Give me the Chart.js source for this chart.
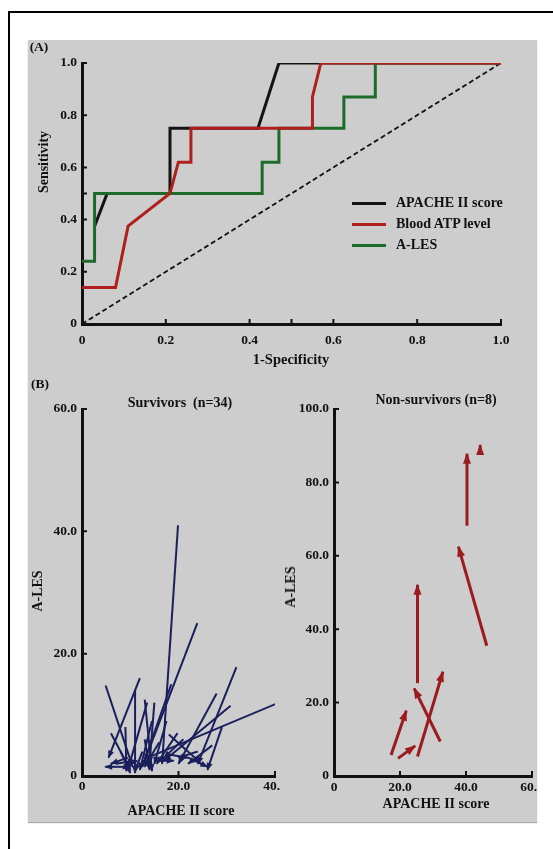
<!DOCTYPE html>
<html>
<head>
<meta charset="utf-8">
<script src="https://cdn.jsdelivr.net/npm/chart.js@4/dist/chart.umd.min.js"></script>
<style>
body { margin: 0; background: #fff; width: 553px; height: 849px; position: relative; overflow: hidden; font-family: 'Liberation Serif', 'Times New Roman', serif; font-weight: bold; color: #111; }
.abs { position: absolute; white-space: nowrap; }
.panel { position: absolute; left: 28px; top: 40px; width: 509px; height: 782px; background: #cdcdcd; box-shadow: 0 1px 1px #aaa; }
.wrap { position: absolute; overflow: hidden; }
.lbl { position: absolute; white-space: nowrap; transform: translate(-50%, -50%); }
.rot { transform: translate(-50%, -50%) rotate(-90deg); }
.leg { position: absolute; left: 352px; width: 34px; height: 3px; }
</style>
</head>
<body>
<div class="abs" style="left:8px;top:11px;width:545px;height:1.5px;background:#000"></div>
<div class="abs" style="left:8px;top:11px;width:1.5px;height:838px;background:#000"></div>
<div class="panel"></div>

<div class="wrap" style="left:28px;top:40px;width:509px;height:330px"><canvas id="roc" width="509" height="330"></canvas></div>
<div class="wrap" style="left:28px;top:380px;width:252px;height:442px"><canvas id="surv" width="300" height="442"></canvas></div>
<div class="wrap" style="left:280px;top:380px;width:257px;height:442px"><canvas id="nonsurv" width="300" height="442"></canvas></div>

<div class="lbl" style="left:39px;top:47px;font-size:13.5px">(A)</div>
<div class="lbl rot" style="left:44px;top:162px;font-size:14px">Sensitivity</div>
<div class="lbl" style="left:291px;top:359px;font-size:14.5px">1-Specificity</div>
<div class="leg" style="top:202px;background:#141414"></div>
<div class="leg" style="top:223px;background:#b01e1e"></div>
<div class="leg" style="top:244px;background:#1d6b2a"></div>
<div class="abs" style="left:396px;top:195px;font-size:14px">APACHE II score</div>
<div class="abs" style="left:396px;top:216px;font-size:14px">Blood ATP level</div>
<div class="abs" style="left:396px;top:237px;font-size:14px">A-LES</div>

<div class="lbl" style="left:40px;top:384px;font-size:13.5px">(B)</div>
<div class="lbl" style="left:180px;top:403px;font-size:14px">Survivors&nbsp; (n=34)</div>
<div class="lbl" style="left:436px;top:400px;font-size:14px">Non-survivors (n=8)</div>
<div class="lbl rot" style="left:38px;top:591px;font-size:14px">A-LES</div>
<div class="lbl rot" style="left:291px;top:587px;font-size:14px">A-LES</div>
<div class="lbl" style="left:181px;top:811px;font-size:14px">APACHE II score</div>
<div class="lbl" style="left:436px;top:804px;font-size:14px">APACHE II score</div>

<script>
// ROC curves (A)
var rocTicks = [0, 0.2, 0.4, 0.6, 0.8, 1.0]
var rocMinor = [0.5]
var apacheX = [0.03, 0.06, 0.21, 0.21, 0.42, 0.47, 1.0]
var apacheY = [0.375, 0.5, 0.5, 0.75, 0.75, 1.0, 1.0]
var atpX = [0, 0.08, 0.11, 0.21, 0.23, 0.26, 0.26, 0.55, 0.55, 0.57, 1.0]
var atpY = [0.14, 0.14, 0.375, 0.5, 0.62, 0.62, 0.75, 0.75, 0.87, 1.0, 1.0]
var alesX = [0, 0.03, 0.03, 0.43, 0.43, 0.47, 0.47, 0.625, 0.625, 0.70, 0.70, 1.0]
var alesY = [0.24, 0.24, 0.5, 0.5, 0.62, 0.62, 0.75, 0.75, 0.87, 0.87, 1.0, 1.0]

// (B) arrows: start -> end (head at end)
var survTicksX = [0, 20, 40]
var survTicksY = [0, 20, 40, 60]
var survStartX = [19.9, 23.9, 32.0, 40.8, 30.8, 27.9, 4.9, 12.0, 11.0, 13.0, 13.5, 18.5, 19.8, 29.0, 27.0, 18.0, 6.0, 9.0, 10.0, 14.5, 16.0, 18.0, 15.0, 9.5, 21.0, 13.0, 8.0, 17.5, 12.5, 24.0, 15.0, 11.5, 22.0, 7.0]
var survStartY = [41.0, 25.0, 17.8, 12.0, 11.5, 13.5, 14.8, 16.0, 14.0, 12.5, 12.0, 15.0, 7.0, 8.0, 5.0, 6.8, 7.0, 8.0, 1.5, 9.0, 5.5, 3.5, 2.5, 3.0, 6.0, 6.0, 4.0, 9.0, 4.0, 4.0, 12.0, 2.5, 3.0, 2.0]
var survEndX = [16.6, 13.0, 24.0, 13.0, 17.0, 20.0, 10.5, 5.5, 11.0, 14.5, 9.5, 12.5, 15.5, 26.0, 22.0, 24.5, 10.0, 9.2, 4.8, 12.0, 13.0, 22.0, 19.0, 6.0, 17.0, 14.0, 10.0, 15.0, 11.0, 20.0, 14.0, 8.5, 26.0, 11.0]
var survEndY = [2.0, 2.5, 2.0, 2.8, 2.5, 2.0, 1.5, 3.0, 0.5, 0.8, 1.0, 1.5, 2.0, 1.0, 2.0, 2.2, 1.0, 0.8, 1.5, 1.0, 1.5, 3.0, 2.5, 2.0, 3.0, 1.0, 0.5, 2.0, 0.8, 3.0, 2.0, 1.2, 1.5, 2.5]

var nonTicksX = [0, 20, 40, 60]
var nonTicksY = [0, 20, 40, 60, 80, 100]
var nonStartX = [17.3, 19.4, 25.3, 32.2, 25.3, 46.3, 40.3, 44.3]
var nonStartY = [5.7, 4.8, 5.3, 9.4, 25.3, 35.5, 68.2, 88.6]
var nonEndX = [21.9, 24.6, 33.0, 24.3, 25.3, 37.7, 40.3, 44.3]
var nonEndY = [17.8, 8.2, 28.4, 23.9, 52.1, 62.5, 87.8, 90.2]

Chart.defaults.font.family = "'Liberation Serif', 'Times New Roman', serif"
Chart.defaults.font.weight = 'bold'
Chart.defaults.font.size = 13.5
Chart.defaults.color = '#111'

function fmt(v) {
    if (v === 0) { return '0' }
    return Number(v).toFixed(1)
}

// tick marks drawn inside the axes
const innerTicks = {
    id: 'innerTicks',
    afterDraw(chart, args, opts) {
        const ctx = chart.ctx
        const area = chart.chartArea
        const sx = chart.scales.x
        const sy = chart.scales.y
        ctx.save()
        ctx.strokeStyle = '#111'
        ctx.lineWidth = 2
        ctx.beginPath()
        opts.x.forEach(v => {
            let px = sx.getPixelForValue(v)
            ctx.moveTo(px, area.bottom)
            ctx.lineTo(px, area.bottom - 5)
        })
        opts.y.forEach(v => {
            let py = sy.getPixelForValue(v)
            ctx.moveTo(area.left, py)
            ctx.lineTo(area.left + 5, py)
        })
        ctx.stroke()
        ctx.restore()
    }
}

const arrowHeads = {
    id: 'arrowHeads',
    afterDatasetsDraw(chart, args, opts) {
        const ctx = chart.ctx
        chart.data.datasets.forEach((ds, i) => {
            const pts = chart.getDatasetMeta(i).data
            const a = pts[0], b = pts[1]
            const ang = Math.atan2(b.y - a.y, b.x - a.x)
            ctx.save()
            ctx.translate(b.x, b.y)
            ctx.rotate(ang)
            ctx.beginPath()
            ctx.moveTo(1, 0)
            ctx.lineTo(-opts.len, -opts.w / 2)
            ctx.lineTo(-opts.len, opts.w / 2)
            ctx.closePath()
            ctx.fillStyle = ds.borderColor
            ctx.fill()
            ctx.restore()
        })
    }
}

function axis(min, max, ticks, pad, isX, size) {
    return {
        type: 'linear',
        min: min,
        max: max,
        grid: { display: true, drawOnChartArea: false, drawTicks: false },
        border: { display: true, color: '#111', width: 3 },
        afterBuildTicks: s => { s.ticks = ticks.map(v => ({ value: v })) },
        ticks: { padding: pad, autoSkip: false, maxRotation: 0, callback: v => fmt(v) },
        afterFit: s => {
            if (isX) { s.height = size } else { s.width = size }
            s.paddingLeft = 0; s.paddingRight = 0; s.paddingTop = 0; s.paddingBottom = 0
        }
    }
}

function pts(xs, ys) {
    return xs.map((x, i) => ({ x: x, y: ys[i] }))
}

// order: higher number is drawn underneath
new Chart(document.getElementById('roc'), {
    type: 'line',
    data: {
        datasets: [
            { label: 'ref', data: [{ x: 0, y: 0 }, { x: 1, y: 1 }], borderColor: '#111', borderWidth: 1.8, borderDash: [5, 3], order: 4 },
            { label: 'APACHE II score', data: pts(apacheX, apacheY), borderColor: '#141414', borderWidth: 3, order: 3 },
            { label: 'Blood ATP level', data: pts(atpX, atpY), borderColor: '#b01e1e', borderWidth: 3, order: 1 },
            { label: 'A-LES', data: pts(alesX, alesY), borderColor: '#1d6b2a', borderWidth: 3, order: 2 }
        ]
    },
    options: {
        responsive: false,
        animation: false,
        parsing: false,
        elements: { point: { radius: 0 }, line: { tension: 0, borderCapStyle: 'butt', borderJoinStyle: 'miter' } },
        layout: { padding: { left: 0, top: 23, right: 36, bottom: 0 } },
        scales: {
            x: axis(0, 1, rocTicks, 8, true, 46),
            y: axis(0, 1, rocTicks, 5, false, 54)
        },
        plugins: {
            legend: { display: false },
            tooltip: { enabled: false },
            innerTicks: { x: rocTicks.concat(rocMinor), y: rocTicks.concat(rocMinor) }
        }
    },
    plugins: [innerTicks]
})

function arrowChart(id, sx, sy, ex, ey, color, lw, xmax, ymax, tx, ty, padRight, xPad, head) {
    let sets = []
    for (let i = 0; i < sx.length; i++) {
        sets.push({ data: [{ x: sx[i], y: sy[i] }, { x: ex[i], y: ey[i] }], borderColor: color, borderWidth: lw })
    }
    new Chart(document.getElementById(id), {
        type: 'line',
        data: { datasets: sets },
        options: {
            responsive: false,
            animation: false,
            parsing: false,
            elements: { point: { radius: 0 }, line: { tension: 0 } },
            layout: { padding: { left: 0, top: 29, right: padRight, bottom: 0 } },
            scales: {
                x: axis(0, xmax, tx, xPad, true, 46),
                y: axis(0, ymax, ty, 5, false, 54)
            },
            plugins: {
                legend: { display: false },
                tooltip: { enabled: false },
                innerTicks: { x: tx, y: ty },
                arrowHeads: head
            }
        },
        plugins: [innerTicks, arrowHeads]
    })
}

arrowChart('surv', survStartX, survStartY, survEndX, survEndY, '#1b1f5c', 2, 40, 60, survTicksX, survTicksY, 53, 2, { len: 7, w: 6 })
arrowChart('nonsurv', nonStartX, nonStartY, nonEndX, nonEndY, '#9c1b1f', 3, 60, 100, nonTicksX, nonTicksY, 48, 3, { len: 10, w: 8 })
</script>
</body>
</html>
